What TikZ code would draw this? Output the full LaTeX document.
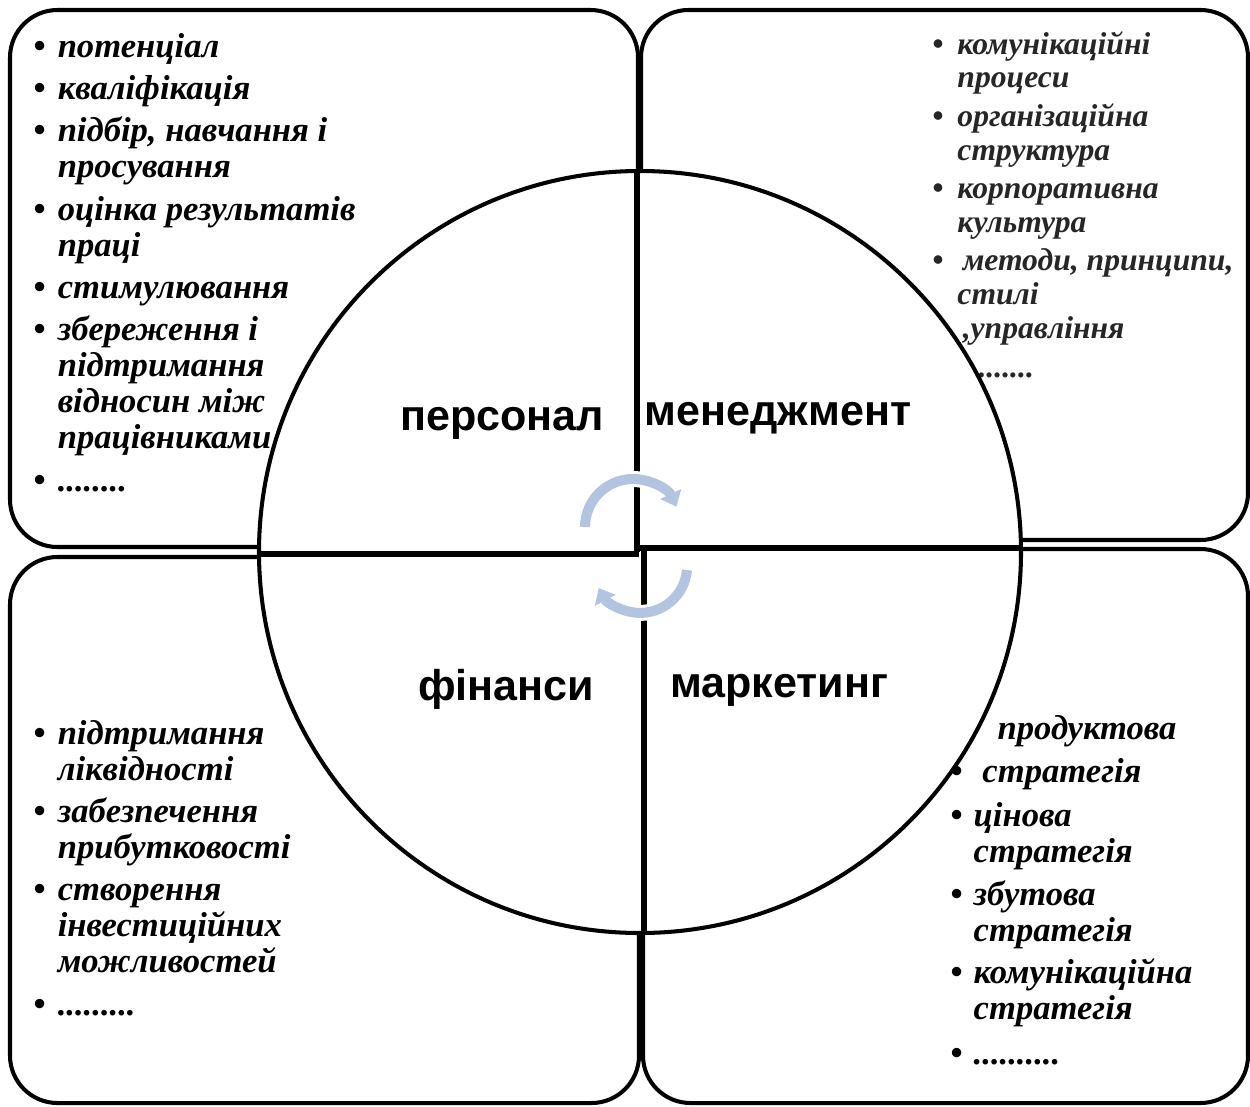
\documentclass[tikz,border=0pt]{standalone}
\usepackage{fontspec}
\setmainfont{Liberation Serif}
\newfontfamily\labelfont{Liberation Sans}
\usetikzlibrary{arrows.meta}

\definecolor{turncol}{RGB}{178,196,224}

\tikzset{
  box/.style={draw, line width=2.3pt, rounded corners=0.95cm},
  ring/.style={draw, fill=white, line width=2.3pt},
  divider/.style={line width=3.4pt},
  sector/.style={font=\labelfont\bfseries\fontsize{24.5}{28}\selectfont, anchor=base, inner sep=0pt},
  points/.style={font=\bfseries\itshape\fontsize{19.7}{20.5}\selectfont, anchor=base west, inner sep=0pt, align=left},
  turn/.style={draw=turncol, line width=0.2cm, -{Triangle[length=0.28cm, width=0.45cm]},
    preaction={draw=white, line width=0.32cm, -}}
}

\begin{document}
\begin{tikzpicture}[x=0.02cm, y=-0.02cm]
    \useasboundingbox (0,0) rectangle (1250,1106);

    % four boxes
    \draw[box] (10,10) rectangle (638,547);
    \draw[box] (641,10) rectangle (1248,540);
    \draw[box] (10,557) rectangle (639,1103);
    \draw[box] (643,549) rectangle (1248,1103);

    % lists
    \node[points] (perslist) at (33,57) {\begin{tabular}[t]{@{}l@{\hspace{7pt}}l@{}}
    \textbullet & потенціал\\[3.6pt]
    \textbullet & кваліфікація\\[3.6pt]
    \textbullet & підбір, навчання і\\
                & просування\\[3.6pt]
    \textbullet & оцінка результатів\\
                & праці\\[3.6pt]
    \textbullet & стимулювання\\[3.6pt]
    \textbullet & збереження і\\
                & підтримання\\
                & відносин між\\
                & працівниками\\[3.6pt]
    \textbullet & ........
    \end{tabular}};

    \node[points, font=\bfseries\itshape\fontsize{18}{19.3}\selectfont, text=black!85]
      (mgmtlist) at (932,54) {\begin{tabular}[t]{@{}l@{\hspace{8pt}}l@{}}
    \textbullet & комунікаційні\\
                & процеси\\[2.5pt]
    \textbullet & організаційна\\
                & структура\\[2.5pt]
    \textbullet & корпоративна\\
                & культура\\[2.5pt]
    \textbullet & \hspace{3pt}методи, принципи,\\
                & стилі\\
                & \hspace{3pt},управління\\[3pt]
                & \hspace{3pt}.........
    \end{tabular}};

    \node[points] (finlist) at (33,744) {\begin{tabular}[t]{@{}l@{\hspace{7pt}}l@{}}
    \textbullet & підтримання\\
                & ліквідності\\[3.6pt]
    \textbullet & забезпечення\\
                & прибутковості\\[3.6pt]
    \textbullet & створення\\
                & інвестиційних\\
                & можливостей\\[3.6pt]
    \textbullet & .........
    \end{tabular}};

    \node[points] (mktlist) at (950,739) {\begin{tabular}[t]{@{}l@{\hspace{6.4pt}}l@{}}
                & \hspace{13.6pt}продуктова\\[4pt]
    \textbullet & \hspace{5pt}стратегія\\[5pt]
    \textbullet & цінова\\
                & стратегія\\[3.6pt]
    \textbullet & збутова\\
                & стратегія\\[3.6pt]
    \textbullet & комунікаційна\\
                & стратегія\\[5pt]
    \textbullet & ..........
    \end{tabular}};

    % the circle and its quarters
    \coordinate (hub) at (640,552);
    \draw[ring] (hub) circle[radius=381];
    \draw[divider] (637,171) -- (637,552);
    \draw[divider] (259,554) -- (639,554);
    \draw[divider] (639,548) -- (1021,548);
    \draw[divider] (644,546) -- (644,933);

    \node[sector] (staff) at (502,430) {персонал};
    \node[sector] (mgmt) at (778,425) {менеджмент};
    \node[sector] (fin) at (506,700) {фінанси};
    \node[sector] (mkt) at (779,697) {маркетинг};

    % circular arrows
    \draw[turn] (585,527) arc[start angle=180, end angle=335, radius=48];
    \draw[turn] (687,570) arc[start angle=5, end angle=152, radius=47];
\end{tikzpicture}
\end{document}
